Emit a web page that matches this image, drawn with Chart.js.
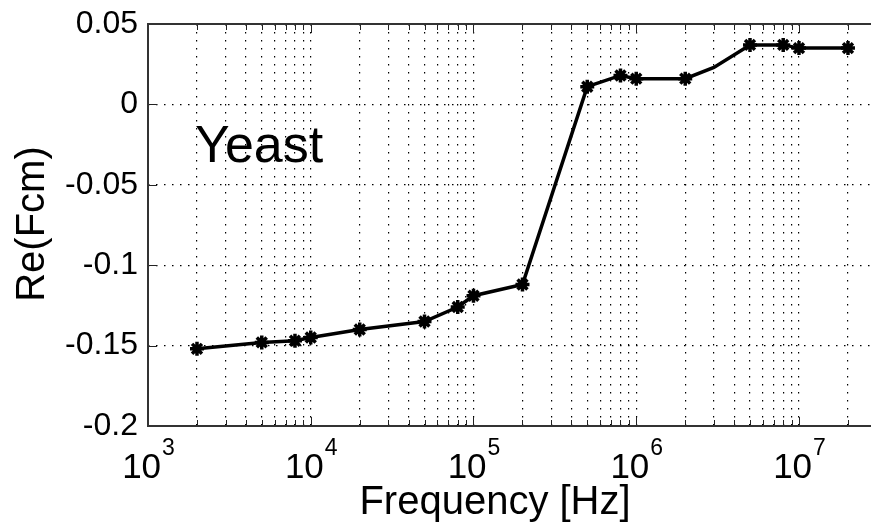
<!DOCTYPE html>
<html>
<head>
<meta charset="utf-8">
<script src="https://cdn.jsdelivr.net/npm/chart.js@4.4.0/dist/chart.umd.min.js"></script>
<style>
	body { margin: 0; background: #fff; }
	#wrap { width: 871px; height: 528px; }
</style>
</head>
<body>
<div id="wrap"><canvas id="reChart" width="871" height="528"></canvas></div>
<script>
// frequency points [Hz] and Re(Fcm)
const freqs = [2e3, 5e3, 8e3, 1e4, 2e4, 5e4, 8e4, 1e5, 2e5, 5e5, 8e5, 1e6, 2e6, 3e6, 5e6, 8e6, 1e7, 2e7];
const reFcm = [-0.152, -0.148, -0.147, -0.145, -0.140, -0.135, -0.126, -0.119, -0.112, 0.011, 0.018, 0.016, 0.016, 0.023, 0.037, 0.037, 0.035, 0.035];
const markerShown = [1, 1, 1, 1, 1, 1, 1, 1, 1, 1, 1, 1, 1, 0, 1, 1, 1, 1];
const yTicks = [0.05, 0, -0.05, -0.1, -0.15, -0.2];
const xDecades = [3, 4, 5, 6, 7];
const xMin = 1e3, xMax = 2.77e7;

const FONT = "'Liberation Sans', Arial, sans-serif";

const points = freqs.map((f, i) => ({ x: f, y: reFcm[i] }));

const matlabAxes = {
	id: "matlabAxes",
	afterDraw(chart) {
		const ctx = chart.ctx;
		const area = chart.chartArea;
		const xs = chart.scales.x;
		const ys = chart.scales.y;
		ctx.save();
		// inward tick marks
		ctx.strokeStyle = "#222";
		ctx.lineWidth = 1;
		xs.ticks.forEach((t) => {
			const px = Math.round(xs.getPixelForValue(t.value)) + 0.5;
			const major = Number.isInteger(Math.log10(t.value));
			const len = major ? 9 : 6;
			ctx.beginPath();
			ctx.moveTo(px, area.bottom);
			ctx.lineTo(px, area.bottom - len);
			ctx.moveTo(px, area.top);
			ctx.lineTo(px, area.top + len);
			ctx.stroke();
		});
		yTicks.forEach((v) => {
			const py = Math.round(ys.getPixelForValue(v)) + 0.5;
			ctx.beginPath();
			ctx.moveTo(area.left, py);
			ctx.lineTo(area.left + 9, py);
			ctx.stroke();
		});
		// box (right side is off the picture)
		ctx.strokeStyle = "#333";
		ctx.lineWidth = 2;
		ctx.beginPath();
		ctx.moveTo(area.right, area.top);
		ctx.lineTo(area.left, area.top);
		ctx.lineTo(area.left, area.bottom);
		ctx.lineTo(area.right, area.bottom);
		ctx.stroke();

		// x tick labels 10^n
		ctx.fillStyle = "#000";
		ctx.textBaseline = "alphabetic";
		xDecades.forEach((d) => {
			const px = xs.getPixelForValue(Math.pow(10, d));
			ctx.font = "35px " + FONT;
			const wBase = ctx.measureText("10").width;
			ctx.font = "23px " + FONT;
			const wExp = ctx.measureText(String(d)).width;
			const x0 = px - (wBase + wExp) / 2;
			ctx.font = "35px " + FONT;
			ctx.textAlign = "left";
			ctx.fillText("10", x0, 478);
			ctx.font = "23px " + FONT;
			ctx.fillText(String(d), x0 + wBase + 1, 455);
		});

		// axis titles
		ctx.font = "40px " + FONT;
		ctx.textAlign = "center";
		ctx.fillText("Frequency [Hz]", 495, 514);
		ctx.save();
		ctx.translate(44, 224);
		ctx.rotate(-Math.PI / 2);
		ctx.fillText("Re(Fcm)", 0, 0);
		ctx.restore();

		// annotation
		ctx.font = "52px " + FONT;
		ctx.textAlign = "left";
		ctx.fillText("Yeast", 195, 162);
		ctx.restore();
	},
};

const ctx = document.getElementById("reChart").getContext("2d");
const myChart = new Chart(ctx, {
	type: "scatter",
	data: {
		datasets: [
			{
				data: points,
				showLine: true,
				borderColor: "#000",
				backgroundColor: "#000",
				borderWidth: 3.5,
				pointStyle: "star",
				pointRadius: markerShown.map((m) => (m ? 7 : 0)),
				pointBorderWidth: 3.5,
				pointBorderColor: "#000",
			},
		],
	},
	options: {
		responsive: false,
		animation: false,
		layout: { autoPadding: false, padding: { top: 24, right: 0, bottom: 0, left: 0 } },
		plugins: { legend: { display: false }, tooltip: { enabled: false } },
		scales: {
			x: {
				type: "logarithmic",
				min: xMin,
				max: xMax,
				afterBuildTicks: (scale) => {
					const ticks = [];
					xDecades.forEach((d) => {
						for (let m = 1; m <= 9; m++) {
							const v = m * Math.pow(10, d);
							if (v <= xMax) ticks.push({ value: v });
						}
					});
					scale.ticks = ticks;
				},
				afterFit: (scale) => {
					scale.height = 102;
					scale.paddingLeft = 0;
					scale.paddingRight = 0;
				},
				ticks: { display: false },
				grid: { color: "#000", lineWidth: 1.2, drawTicks: false },
				border: { display: false, dash: [1.5, 6.5] },
			},
			y: {
				type: "linear",
				min: -0.2,
				max: 0.05,
				afterBuildTicks: (scale) => {
					scale.ticks = yTicks.map((v) => ({ value: v }));
				},
				afterFit: (scale) => {
					scale.width = 148;
					scale.paddingTop = 0;
					scale.paddingBottom = 0;
				},
				ticks: {
					color: "#000",
					padding: 10,
					font: { family: FONT, size: 32 },
					callback: (v) => String(Math.round(v * 100) / 100),
				},
				grid: { color: "#000", lineWidth: 1.2, drawTicks: false },
				border: { display: false, dash: [1.5, 6.5] },
			},
		},
	},
	plugins: [matlabAxes],
});
</script>
</body>
</html>
